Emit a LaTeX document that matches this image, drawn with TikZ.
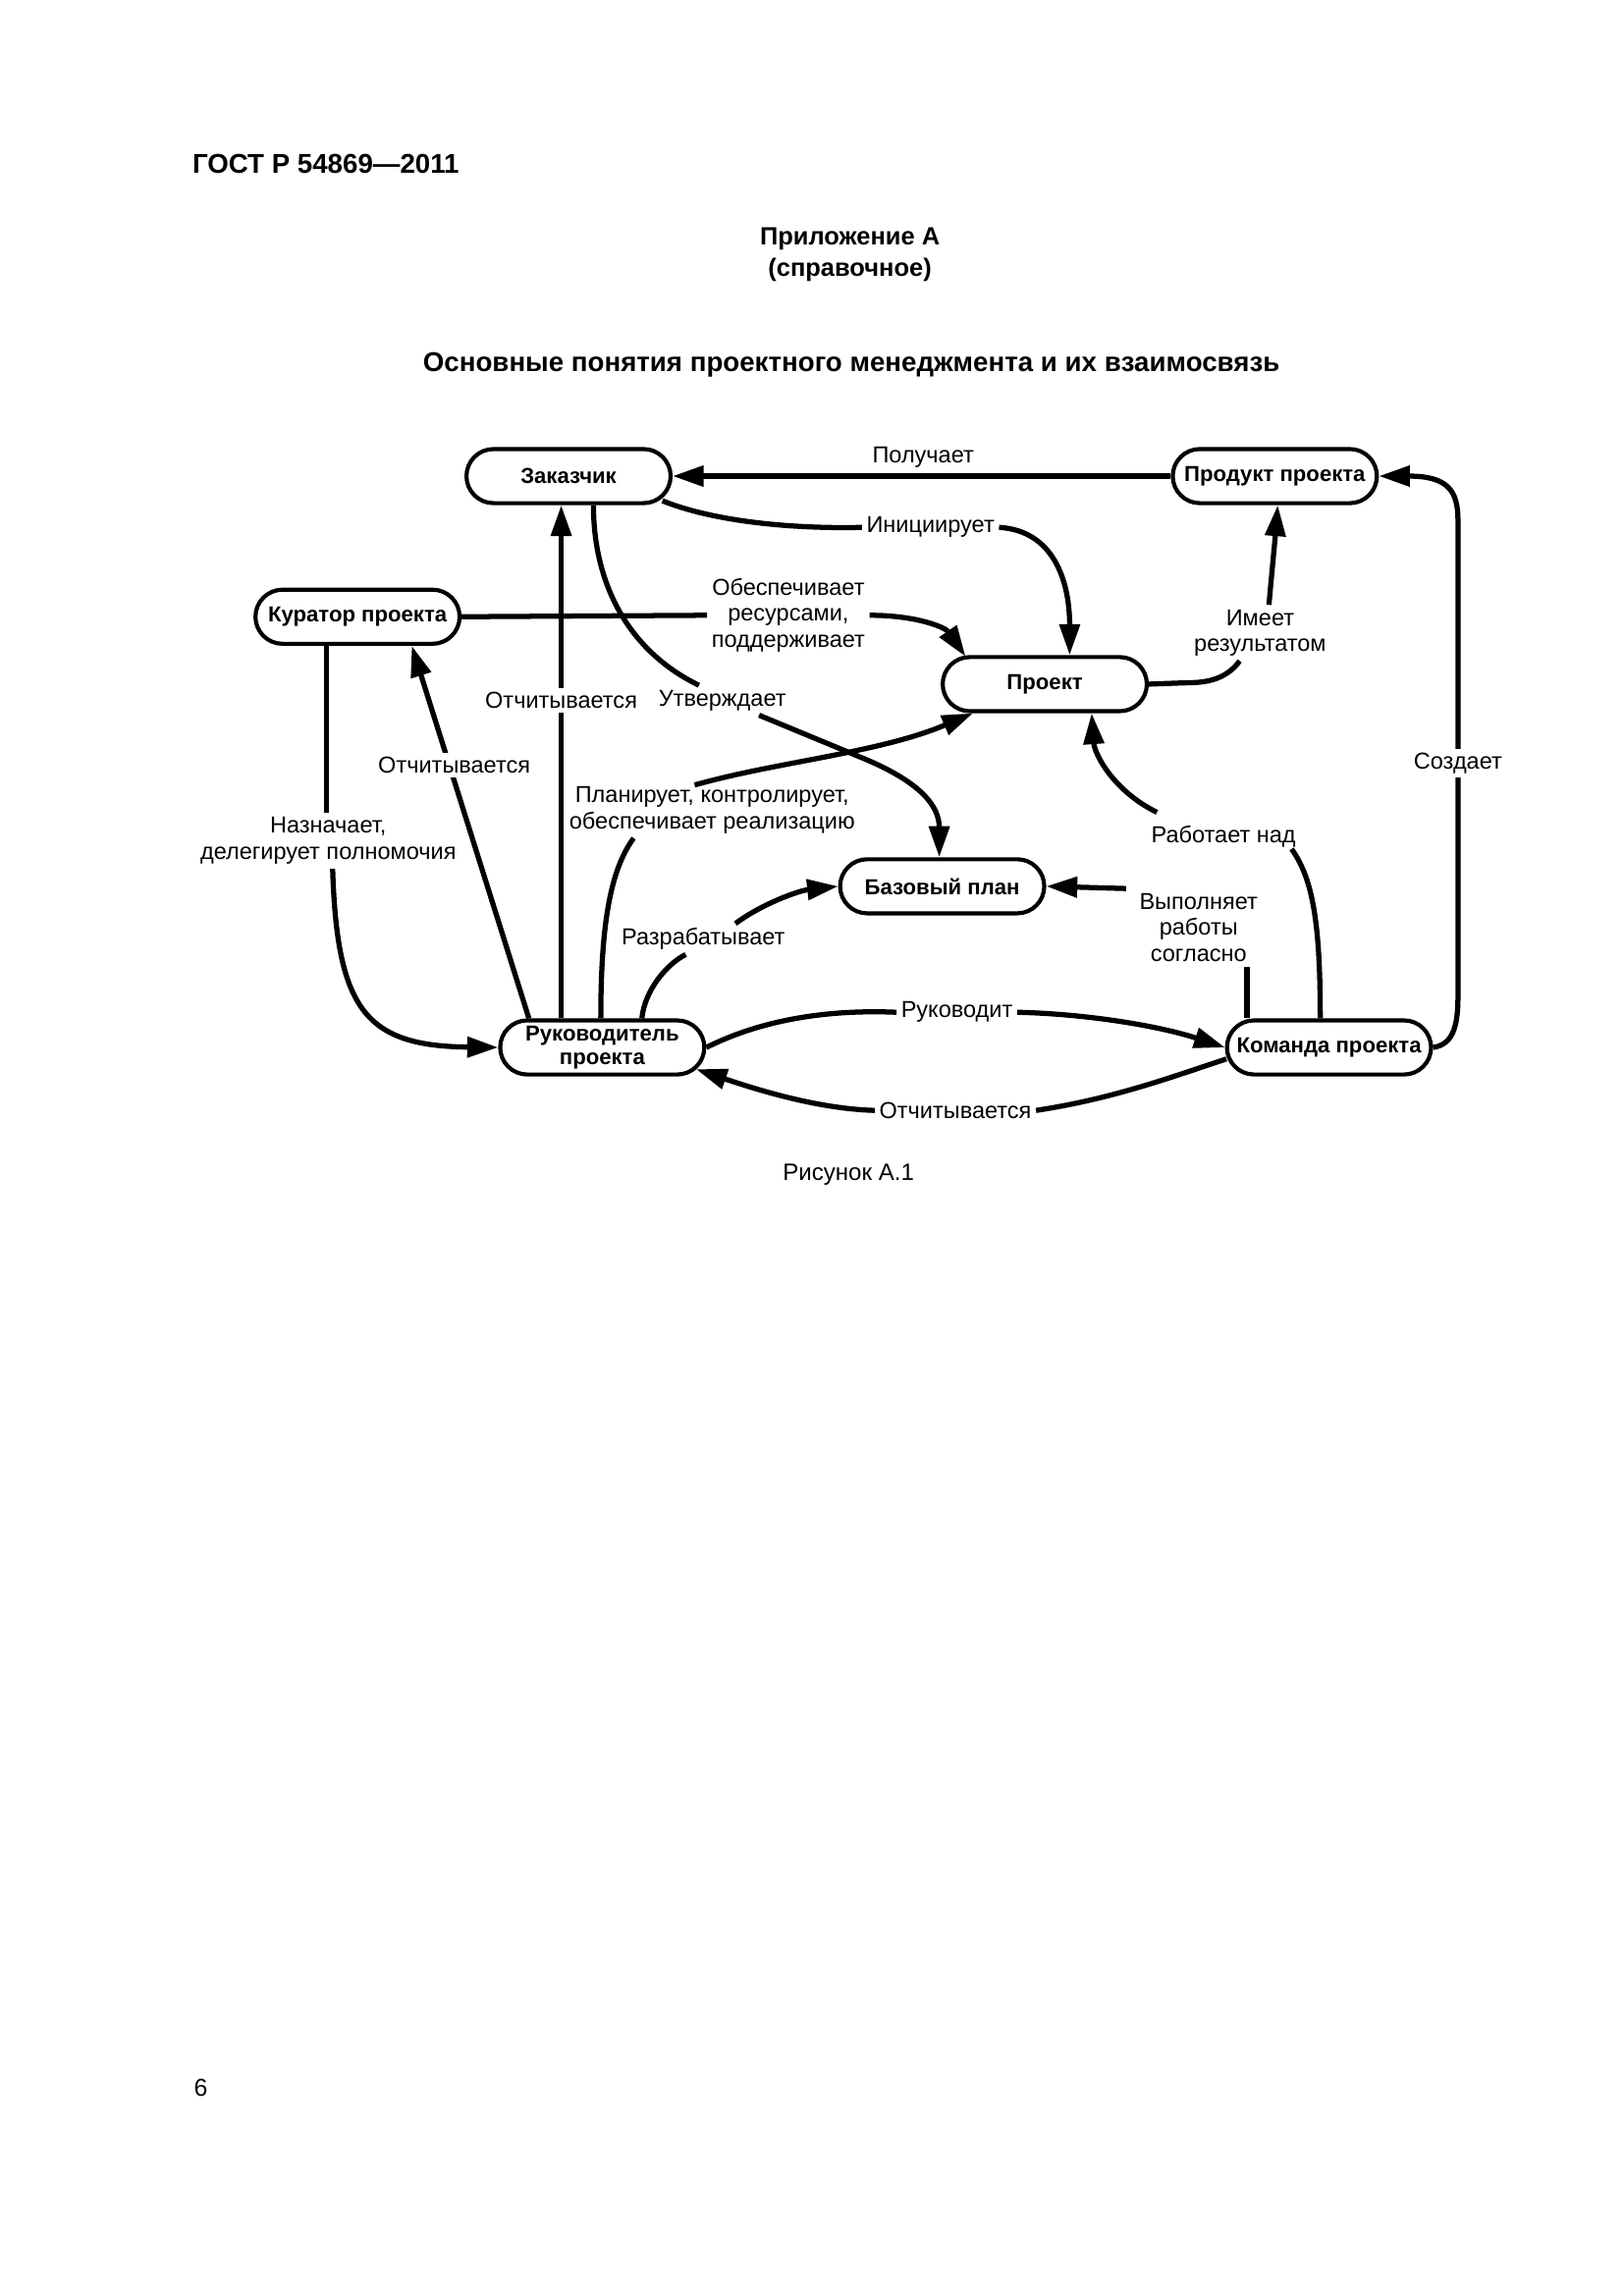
\documentclass[tikz,border=0pt]{standalone}
\usepackage{fontspec}
\setmainfont{Liberation Sans}
\usetikzlibrary{arrows.meta,calc}
\begin{document}
\begin{tikzpicture}[x=0.1895mm,y=-0.1895mm,
  box/.style={draw, line width=1.5pt, rounded corners=3.5mm, minimum width=26.4mm,
    minimum height=7.0mm, inner sep=0pt, align=center,
    font=\fontsize{8}{8.6}\selectfont\bfseries},
  lbl/.style={font=\fontsize{8.5}{9.6}\selectfont, align=center, inner sep=1.5pt},
  cut/.style={lbl, fill=white},
  con/.style={line width=1.9pt},
  arr/.style={con, -{Triangle[length=4mm,width=2.6mm]}},
  hd/.style={font=\fontsize{10}{12}\selectfont\bfseries},
  hs/.style={font=\fontsize{9.2}{11}\selectfont\bfseries}]
\useasboundingbox (0mm,0mm) rectangle (210mm,-297mm);

% page texts
\node[hd, anchor=west, inner sep=0pt] (hdr) at (131,112) {ГОСТ Р 54869—2011};
\node[hs] (app) at (580,163) {Приложение А};
\node[hs] (ref) at (580,184) {(справочное)};
\node[hd] (ttl) at (581,249) {Основные понятия проектного менеджмента и их взаимосвязь};
\node[font=\fontsize{8.7}{10}\selectfont] (fig) at (579,802) {Рисунок А.1};
\node[font=\fontsize{9}{10}\selectfont] (pg) at (137,1425) {6};

% boxes
\node[box] (zak)  at (388,325) {Заказчик};
\node[box] (prod) at (870,325) {Продукт проекта};
\node[box] (kur)  at (244,421) {Куратор проекта};
\node[box] (proj) at (713,467) {Проект};
\node[box] (base) at (643,605) {Базовый план};
\node[box] (ruk)  at (411,715) {Руководитель\\проекта};
\node[box] (kom)  at (907,715) {Команда проекта};

% labels that break connectors
\node[lbl] (lPol) at (630,312) {Получает};
\node[lbl] (lIni) at (635,360) {Инициирует};
\node[lbl] (lObe) at (538,420) {Обеспечивает\\ресурсами,\\поддерживает};
\node[lbl] (lImR) at (860,432) {Имеет\\результатом};
\node[lbl] (lUtv) at (493,478) {Утверждает};
\node[lbl] (lPla) at (486,553) {Планирует, контролирует,\\обеспечивает реализацию};
\node[lbl] (lNaz) at (224,574) {Назначает,\\делегирует полномочия};
\node[lbl] (lRab) at (835,571) {Работает над};
\node[lbl] (lVyp) at (818,633) {Выполняет\\работы\\согласно};
\node[lbl] (lRaz) at (480,641) {Разрабатывает};
\node[lbl] (lRuk) at (653,691) {Руководит};
\node[lbl] (lOtB) at (652,758) {Отчитывается};

% Получает
\draw[arr] (prod.west) -- (zak.east);
% Инициирует
\draw[con] ($(zak.south east)+(-7,-3)$) .. controls (490,357) and (545,361) .. (lIni.west);
\draw[arr] (lIni.east) .. controls (718,362) and (730,395) .. ($(proj.north)+(17,0)$);
% Обеспечивает ресурсами
\draw[con] (kur.east) -- (lObe.west);
\draw[arr] (lObe.east) .. controls (625,420) and (645,428) .. ($(proj.north west)+(17,1)$);
% Назначает
\draw[con] ($(kur.south)+(-21,0)$) -- ($(lNaz.north)+(-1,0)$);
\draw[arr] ($(lNaz.south)+(3,0)$) .. controls (230,690) and (250,714) .. (ruk.west);
% Отчитывается (руководитель -> куратор)
\draw[arr] ($(ruk.north west)+(21,0)$) -- ($(kur.south east)+(-34,0)$);
% Отчитывается (руководитель -> заказчик)
\draw[arr] ($(ruk.north)+(-28,0)$) -- ($(zak.south)+(-5,0)$);
% Утверждает
\draw[con] ($(zak.south)+(17,0)$) .. controls (405,400) and (430,445) .. ($(lUtv.north)+(-16,0)$);
\draw[arr] ($(lUtv.south)+(25,0)$) -- (590,518) .. controls (628,534) and (641,550) .. ($(base.north)+(-2,0)$);
% Планирует
\draw[con] ($(ruk.north)+(-1,0)$) .. controls (410,625) and (418,592) .. ($(lPla.south west)+(47,0)$);
\draw[arr] ($(lPla.north)+(-12,2)$) .. controls (530,520) and (600,514) .. ($(proj.south west)+(22,0)$);
% Разрабатывает
\draw[con] ($(ruk.north east)+(-44,0)$) .. controls (440,676) and (455,658) .. ($(lRaz.south)+(-12,0)$);
\draw[arr] ($(lRaz.north east)+(-37,0)$) .. controls (520,617) and (545,608) .. (base.west);
% Руководит
\draw[con] (ruk.east) .. controls (520,696) and (565,689) .. (lRuk.west);
\draw[arr] (lRuk.east) .. controls (740,692) and (790,700) .. (kom.west);
% Отчитывается (команда -> руководитель)
\draw[con] ($(kom.south west)+(1,-12)$) .. controls (800,735) and (760,750) .. (lOtB.east);
\draw[arr] (lOtB.west) .. controls (560,757) and (520,745) .. ($(ruk.south east)+(-7,-5)$);
% Выполняет работы согласно
\draw[con] ($(kom.north)+(-56,0)$) -- ($(kom.north)+(-56,-35)$);
\draw[arr] ($(lVyp.north west)+(-6,0)$) -- (base.east);
% Работает над
\draw[con] ($(kom.north)+(-6,0)$) .. controls (901,630) and (896,600) .. ($(lRab.south east)+(-6,-2)$);
\draw[arr] ($(lRab.north west)+(7,-6)$) .. controls (760,540) and (747,515) .. ($(proj.south)+(32,0)$);
% Создает
\draw[arr] (kom.east) .. controls (991,713) and (995,702) .. (995,680) -- (995,355)
  .. controls (995,335) and (988,325) .. (prod.east);
% Имеет результатом
\draw[con] (proj.east) -- (812,466) .. controls (828,466) and (839,461) .. ($(lImR.south)+(-14,0)$);
\draw[arr] ($(lImR.north)+(6,0)$) .. controls (868,390) and (870,370) .. ($(prod.south)+(2,0)$);

% labels over straight connectors
\node[cut] (lOtZ) at (383,478) {Отчитывается};
\node[cut] (lOtK) at (310,522) {Отчитывается};
\node[cut] (lSoz) at (995,521) {Создает};
\end{tikzpicture}
\end{document}
